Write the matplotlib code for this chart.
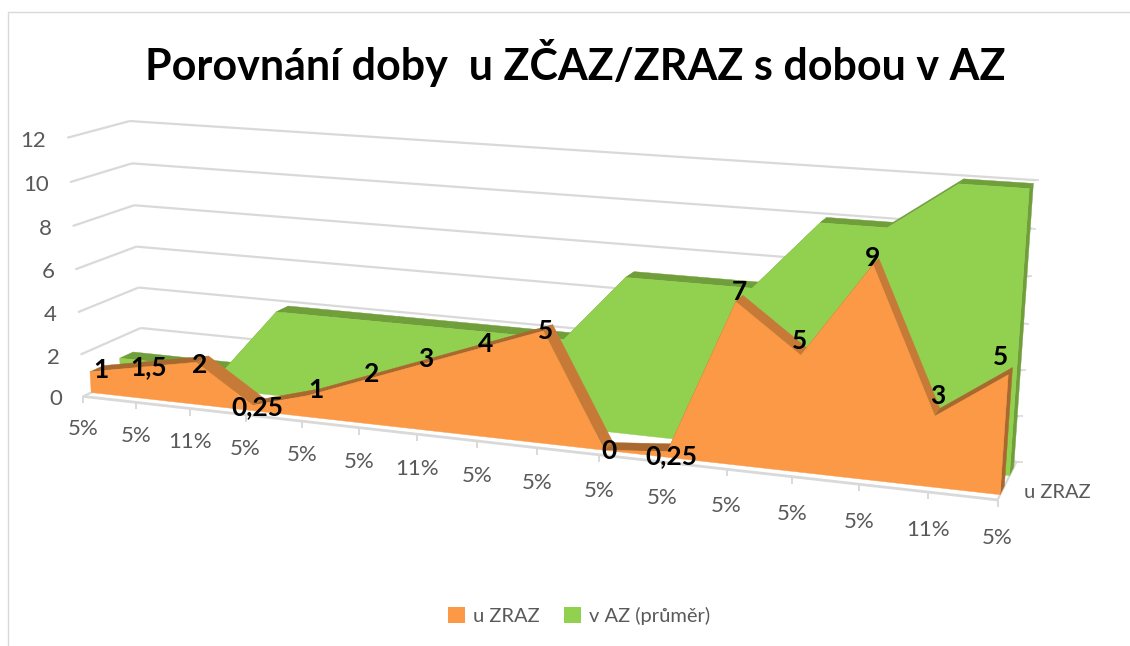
import numpy as np
import matplotlib
matplotlib.use("Agg")
import matplotlib.pyplot as plt
from matplotlib.patches import Polygon, Patch

# ---- data ----
categories = ["5%", "5%", "11%", "5%", "5%", "5%", "11%", "5%", "5%", "5%", "5%", "5%", "5%", "5%", "11%", "5%"]
u_zraz = [1, 1.5, 2, 0.25, 1, 2, 3, 4, 5, 0, 0.25, 7, 5, 9, 3, 5]
u_zraz_labels = ["1", "1,5", "2", "0,25", "1", "2", "3", "4", "5", "0", "0,25", "7", "5", "9", "3", "5"]
v_az = [1, 1, 1, 4, 4, 4, 4, 4, 4, 7, 7, 7, 10, 10, 12, 12]
value_ticks = [0, 2, 4, 6, 8, 10, 12]
title = "Porovnání doby  u ZČAZ/ZRAZ s dobou v AZ"
depth_label = "u ZRAZ"
series_names = ["u ZRAZ", "v AZ (průměr)"]

# ---- colours ----
ORANGE, ORANGE_TOP, ORANGE_FALL = "#FB9946", "#A9682F", "#C77A38"
GREEN, GREEN_TOP = "#92D050", "#6F9E3A"
GRID, TEXT = "#D9D9D9", "#595959"

# ---- layout: pixel nudges of the data labels from their data anchors ----
label_dx = [3, -1, -3, -2, 2, 1, -3, -2, -3, 0, 0, -1, -5, -4, 0, -10]
label_dy = [2, 3, 6, 5, -2, -2, -1, 0, 4, 5, 9, -6, -10, -3, -16, -14]

plt.rcParams["font.family"] = ["Lato", "DejaVu Sans"]

# ---- perspective camera, calibrated from the axis corners (cat, value, depth) -> pixel ----
calib = [((0, 0, 0), (83, 396)), ((0, 12, 0), (67, 139)), ((0, 0, 1), (143, 368)),
         ((0, 12, 1), (130, 120)), ((15, 0, 1), (1016, 463)), ((15, 12, 1), (1036, 180)),
         ((15, 0, 0), (998, 498)), ((8, 0, 0), (537, 448)), ((11, 0, 0), (727, 470))]
A, b = [], []
for (X, Y, Z), (u, v) in calib:
    A.append([X, Y, Z, 1, 0, 0, 0, 0, -u * X, -u * Y, -u * Z]); b.append(u)
    A.append([0, 0, 0, 0, X, Y, Z, 1, -v * X, -v * Y, -v * Z]); b.append(v)
P = np.append(np.linalg.lstsq(np.array(A, float), np.array(b, float), rcond=None)[0], 1).reshape(3, 4)


def project(cat, val, depth):
    h = P @ np.array([cat, val, depth, 1.0])
    return h[0] / h[2], h[1] / h[2]


fig = plt.figure(figsize=(11.3, 6.46), dpi=100)
ax = fig.add_axes([0, 0, 1, 1])
ax.set_xlim(0, 1130)
ax.set_ylim(646, 0)
ax.axis("off")

# chart frame
ax.plot([8, 8, 1130], [646, 12, 12], color=GRID, lw=1.0)

last = len(categories) - 1


def line(p, q, lw=1.6):
    ax.plot([p[0], q[0]], [p[1], q[1]], color=GRID, lw=lw, solid_capstyle="butt", zorder=1)


# walls and floor
for t in value_ticks:
    line(project(0, t, 0), project(0, t, 1))
    line(project(0, t, 1), project(last, t, 1))
    a = project(last, t, 1)
    line(a, (a[0] + 3, a[1]), 1.2)
line(project(0, 0, 0), project(last, 0, 0), 2.0)
line(project(last, 0, 0), project(last, 0, 1))
e = project(last, 0, 1)
line(e, (e[0] + 7, e[1]), 1.2)
for i in range(len(categories)):
    f = project(i, 0, 0)
    line(f, (f[0], f[1] + 7), 1.4)


def ribbon(values, d0, d1, face, top, fall=None, z=2):
    # top strips, back to front along the series
    for i in range(len(values) - 1):
        col = fall if (fall and values[i + 1] < values[i] - 0.5) else top
        ax.add_patch(Polygon([project(i, values[i], d0), project(i + 1, values[i + 1], d0),
                              project(i + 1, values[i + 1], d1), project(i, values[i], d1)],
                             closed=True, fc=col, ec=col, lw=0.3, zorder=z))
    # right end cap
    ax.add_patch(Polygon([project(last, 0, d0), project(last, values[-1], d0),
                          project(last, values[-1], d1), project(last, 0, d1)],
                         closed=True, fc=top, ec=top, lw=0.3, zorder=z))
    # front face
    pts = [project(0, 0, d0)] + [project(i, v, d0) for i, v in enumerate(values)] + [project(last, 0, d0)]
    ax.add_patch(Polygon(pts, closed=True, fc=face, ec=face, lw=0.3, zorder=z + 0.5))


ribbon(v_az, 0.62, 0.85, GREEN, GREEN_TOP, z=2)
ribbon(u_zraz, 0.13, 0.35, ORANGE, ORANGE_TOP, ORANGE_FALL, z=3)

# value axis labels
for t in value_ticks:
    x, y = project(0, t, 0)
    ax.text(x - 21, y + 3, str(t), ha="right", va="center", fontsize=16, color=TEXT, zorder=6)

# category labels
for i, c in enumerate(categories):
    x, y = project(i, 0, 0)
    ax.text(x, y + 33 + i / 3, c, ha="center", va="center", fontsize=16, color=TEXT, zorder=6)

ax.text(1057, 493, depth_label, ha="center", va="center", fontsize=14.5, color=TEXT, zorder=6)

# data labels
for i, (v, s) in enumerate(zip(u_zraz, u_zraz_labels)):
    x, y = project(i, v, 0.25)
    ax.text(x + label_dx[i], y + label_dy[i], s, ha="center", va="center", fontsize=19,
            fontweight="bold", color="black", zorder=7)

ax.text(575, 63, title, ha="center", va="center", fontsize=31, fontweight="bold", color="black", zorder=7)

ax.legend(handles=[Patch(fc=ORANGE, label=series_names[0]), Patch(fc=GREEN, label=series_names[1])],
          loc="center", bbox_to_anchor=(579 / 1130, 1 - 616 / 646), ncols=2, frameon=False,
          fontsize=14.5, labelcolor=TEXT, handlelength=0.85, handleheight=0.85, handletextpad=0.4,
          columnspacing=1.2)

fig.savefig("out.png", dpi=100)
